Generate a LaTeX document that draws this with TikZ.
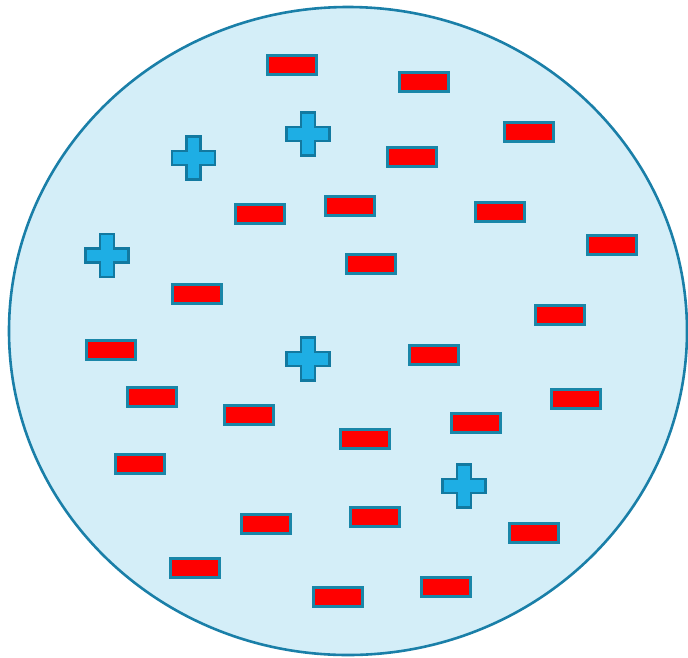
\documentclass[tikz,border=0pt]{standalone}
\begin{document}
\begin{tikzpicture}[x=1pt,y=-1pt,
  cell/.style={draw=cellline,fill=cellfill,line width=2.6pt},
  minus/.style={draw=minusline,fill=red,line width=2.6pt,minimum width=49pt,minimum height=19pt,inner sep=0pt,outer sep=0pt},
  plus/.style={draw=plusline,fill=plusfill,line width=2.6pt,line join=miter}]
\definecolor{cellline}{HTML}{1A7FA8}
\definecolor{cellfill}{HTML}{D4EEF8}
\definecolor{minusline}{HTML}{1A86A8}
\definecolor{plusline}{HTML}{1279A0}
\definecolor{plusfill}{HTML}{1EAEE4}
\useasboundingbox (0,0) rectangle (688,657);
\draw[cell] (348,331) ellipse [x radius=339, y radius=324];
\foreach \n/\x/\y in {m1/292/65, m2/424/82, m3/529/132, m4/412/157, m5/260/214, m6/350/206, m7/500/212, m8/612/245, m9/371/264, m10/197/294, m11/560/315, m12/111/350, m13/434/355, m14/152/397, m15/249/415, m16/576/399, m17/365/439, m18/476/423, m19/140/464, m20/266/524, m21/375/517, m22/534/533, m23/195/568, m24/338/597, m25/446/587}
  \node[minus] (\n) at (\x,\y) {};
\foreach \n/\x/\y in {p1/193.5/158, p2/308/134, p3/107/255.5, p4/308/359, p5/464/486}{
  \coordinate (\n) at (\x,\y);
  \draw[plus] (\n) ++(-7,-21.5) -- ++(14,0) -- ++(0,14.5) -- ++(14.5,0) -- ++(0,14) -- ++(-14.5,0) -- ++(0,14.5) -- ++(-14,0) -- ++(0,-14.5) -- ++(-14.5,0) -- ++(0,-14) -- ++(14.5,0) -- cycle;
}
\end{tikzpicture}
\end{document}
